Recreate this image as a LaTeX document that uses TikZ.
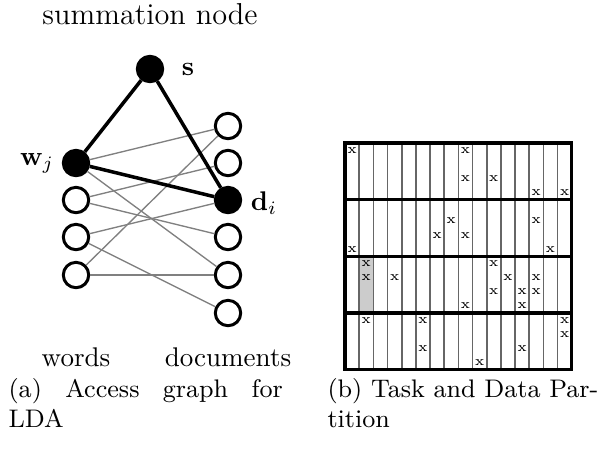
\documentclass[tikz,border=0pt]{standalone}
\usetikzlibrary{shadows}
\tikzset{
    vtx/.style = {circle, draw, line width=1.1pt, fill=white, minimum size=9.4pt, inner sep=0pt,
        drop shadow={opacity=.3, shadow xshift=.5pt, shadow yshift=-.5pt}},
    hot/.style = {vtx, fill=black},
    access/.style = {draw=black!50, line width=.5pt},
    update/.style = {line width=1.3pt},
    cellx/.style = {inner sep=0pt, font=\tiny},
    caption/.style = {inner sep=0pt, anchor=north west, font=\fontsize{9.4}{11}\selectfont},
}

\begin{document}
\begin{tikzpicture}[x=0.37pt,y=-0.37pt]
\useasboundingbox (0,0) rectangle (597,450);

\begin{scope}
\node(s) [hot] at (150,69) {};
\node(sl) at (188,69) {$\mathbf{s}$};
\node(top) [font=\fontsize{11.2}{13}\selectfont] at (150,14) {summation node};

\node(w1) [hot] at (76,163) {};
\node(w2) [vtx] at (76,200) {};
\node(w3) [vtx] at (76,237) {};
\node(w4) [vtx] at (76,275) {};
\node(wl) at (37,163) {$\mathbf{w}_j$};

\node(d1) [vtx] at (228,126) {};
\node(d2) [vtx] at (228,163) {};
\node(d3) [hot] at (228,200) {};
\node(d4) [vtx] at (228,237) {};
\node(d5) [vtx] at (228,275) {};
\node(d6) [vtx] at (228,313) {};
\node(dl) at (264,203) {$\mathbf{d}_i$};

\node(words) at (76,357) {words};
\node(docs) at (228,357) {documents};

\draw[access](w1) -- (d1);
\draw[access](w1) -- (d5);
\draw[access](w2) -- (d2);
\draw[access](w2) -- (d4);
\draw[access](w3) -- (d3);
\draw[access](w3) -- (d6);
\draw[access](w4) -- (d1);
\draw[access](w4) -- (d5);

\draw[update](s) -- (w1);
\draw[update](s) -- (d3);
\draw[update](w1) -- (d3);

\node(capa) [caption, text width=101.5pt, align=justify] at (8,378) {(a) Access graph for\linebreak LDA};
\end{scope}

\begin{scope}[shift={(345,143)},x=5.243pt,y=-5.243pt]
\fill[black!20] (1,8) rectangle (2,12);
\draw[black!60, line width=.6pt, xstep=1, ystep=16] (0,0) grid (16,16);
\draw[line width=1.2pt] (0,4) -- (16,4);
\draw[line width=1.2pt] (0,8) -- (16,8);
\draw[line width=1.2pt] (0,12) -- (16,12);
\draw[line width=1.2pt] (0,0) rectangle (16,16);

% first block
\node(x1) [cellx] at (0.5,0.5) {x};
\node(x2) [cellx] at (8.5,0.5) {x};
\node(x3) [cellx] at (8.5,2.5) {x};
\node(x4) [cellx] at (10.5,2.5) {x};
\node(x5) [cellx] at (13.5,3.5) {x};
\node(x6) [cellx] at (15.5,3.5) {x};

% second block
\node(x7) [cellx] at (7.5,5.5) {x};
\node(x8) [cellx] at (13.5,5.5) {x};
\node(x9) [cellx] at (6.5,6.5) {x};
\node(x10) [cellx] at (8.5,6.5) {x};
\node(x11) [cellx] at (0.5,7.5) {x};
\node(x12) [cellx] at (14.5,7.5) {x};

% third block
\node(x13) [cellx] at (1.5,8.5) {x};
\node(x14) [cellx] at (10.5,8.5) {x};
\node(x15) [cellx] at (1.5,9.5) {x};
\node(x16) [cellx] at (3.5,9.5) {x};
\node(x17) [cellx] at (11.5,9.5) {x};
\node(x18) [cellx] at (13.5,9.5) {x};
\node(x19) [cellx] at (10.5,10.5) {x};
\node(x20) [cellx] at (12.5,10.5) {x};
\node(x21) [cellx] at (13.5,10.5) {x};
\node(x22) [cellx] at (8.5,11.5) {x};
\node(x23) [cellx] at (12.5,11.5) {x};

% fourth block
\node(x24) [cellx] at (1.5,12.5) {x};
\node(x25) [cellx] at (5.5,12.5) {x};
\node(x26) [cellx] at (15.5,12.5) {x};
\node(x27) [cellx] at (15.5,13.5) {x};
\node(x28) [cellx] at (5.5,14.5) {x};
\node(x29) [cellx] at (12.5,14.5) {x};
\node(x30) [cellx] at (9.5,15.5) {x};
\end{scope}

\node(capb) [caption, align=left] at (327,378) {(b) Task and Data Par-\\tition};

\end{tikzpicture}
\end{document}
